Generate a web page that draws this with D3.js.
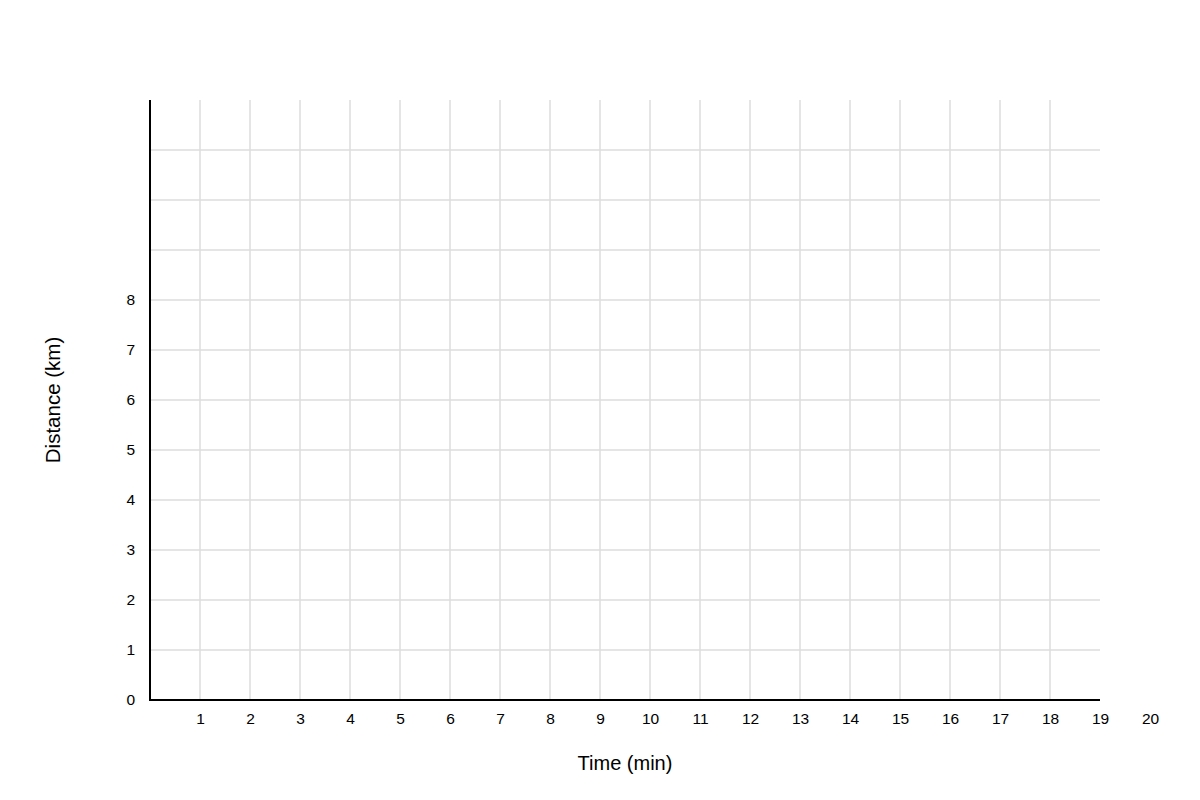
<!DOCTYPE html>
<html>
<head>
<meta charset="utf-8">
<script src="https://cdn.jsdelivr.net/npm/d3@7"></script>
<style>
  body { margin: 0; background: #fff; }
  svg text { font-family: "Liberation Sans", Arial, sans-serif; fill: #000; }
  .tick text { font-size: 15.5px; }
</style>
</head>
<body>
<svg id="chart" width="1200" height="800"></svg>
<script>
// axis setup
var xMax = 19, yMax = 12;
var xTickLabels = [1, 2, 3, 4, 5, 6, 7, 8, 9, 10, 11, 12, 13, 14, 15, 16, 17, 18, 19, 20];
var yTickLabels = [0, 1, 2, 3, 4, 5, 6, 7, 8];
var xGrid = [1, 2, 3, 4, 5, 6, 7, 8, 9, 10, 11, 12, 13, 14, 15, 16, 17, 18];
var yGrid = [1, 2, 3, 4, 5, 6, 7, 8, 9, 10, 11];
var xTitle = "Time (min)", yTitle = "Distance (km)";

var svg = d3.select("#chart");
var plotLeft = 150, plotRight = 1100, plotTop = 100, plotBottom = 700;

let x = d3.scaleLinear().domain([0, xMax]).range([plotLeft, plotRight]);
let y = d3.scaleLinear().domain([0, yMax]).range([plotBottom, plotTop]);

// grid
svg.append("g").selectAll("line")
    .data(xGrid)
    .join("line")
    .attr("x1", d => x(d)).attr("x2", d => x(d))
    .attr("y1", plotTop).attr("y2", plotBottom)
    .attr("stroke", "#dcdcdc")
    .attr("stroke-width", 1.5);

svg.append("g").selectAll("line")
    .data(yGrid)
    .join("line")
    .attr("x1", plotLeft).attr("x2", plotRight)
    .attr("y1", d => y(d)).attr("y2", d => y(d))
    .attr("stroke", "#dcdcdc")
    .attr("stroke-width", 1.5);

// axes (labels only, no tick marks)
var xAxis = svg.append("g")
    .attr("transform", "translate(0," + plotBottom + ")")
    .call(d3.axisBottom(x).tickValues(xTickLabels).tickSize(0).tickPadding(13));
var yAxis = svg.append("g")
    .attr("transform", "translate(" + plotLeft + ",0)")
    .call(d3.axisLeft(y).tickValues(yTickLabels).tickSize(0).tickPadding(15));

xAxis.select(".domain").remove();
yAxis.select(".domain").remove();

svg.append("line")
    .attr("x1", plotLeft).attr("x2", plotRight)
    .attr("y1", plotBottom).attr("y2", plotBottom)
    .attr("stroke", "#000").attr("stroke-width", 2);
svg.append("line")
    .attr("x1", plotLeft).attr("x2", plotLeft)
    .attr("y1", plotTop).attr("y2", plotBottom + 1)
    .attr("stroke", "#000").attr("stroke-width", 2);

// titles
svg.append("text")
    .attr("x", (plotLeft + plotRight) / 2)
    .attr("y", 770)
    .attr("text-anchor", "middle")
    .style("font-size", "20px")
    .text(xTitle);
svg.append("text")
    .attr("transform", "translate(60," + ((plotTop + plotBottom) / 2) + ") rotate(-90)")
    .attr("text-anchor", "middle")
    .style("font-size", "20.5px")
    .text(yTitle);
</script>
</body>
</html>
